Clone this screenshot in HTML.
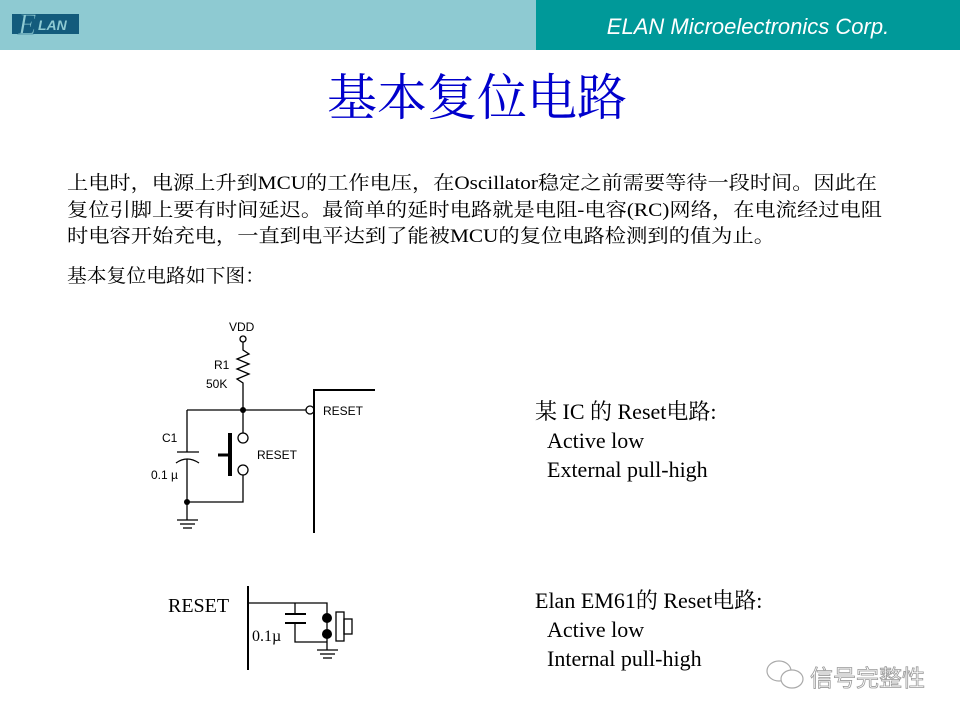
<!DOCTYPE html>
<html><head><meta charset="utf-8"><style>
html,body{margin:0;padding:0;background:#fff;}
svg{display:block;}
</style></head><body>
<svg width="960" height="720" viewBox="0 0 960 720" xmlns="http://www.w3.org/2000/svg">
<rect x="0" y="0" width="536" height="50" fill="#8ECAD2"/>
<rect x="536" y="0" width="424" height="50" fill="#009999"/>
<rect x="12" y="14" width="67" height="20" fill="#135B7C"/>
<text x="38" y="30" font-family="Liberation Sans, sans-serif" font-style="italic" font-weight="bold" font-size="14" fill="#8ECAD2">LAN</text>
<text x="18" y="34" font-family="Liberation Serif, serif" font-style="italic" font-size="30" fill="#8ECAD2" stroke="#135B7C" stroke-width="0.6">E</text>
<text x="748" y="34" text-anchor="middle" font-family="Liberation Sans, sans-serif" font-style="italic" font-size="22" fill="#fff">ELAN Microelectronics Corp.</text>
<text x="477" y="115" text-anchor="middle" font-family="'Noto Serif CJK SC', serif" font-size="50" fill="#0000CC">基本复位电路</text>
<g font-family="Liberation Serif, 'Noto Serif CJK SC', serif" font-size="19" fill="#000">
<text x="67" y="189" textLength="810" lengthAdjust="spacingAndGlyphs">上电时，电源上升到MCU的工作电压，在Oscillator稳定之前需要等待一段时间。因此在</text>
<text x="67" y="216" textLength="815" lengthAdjust="spacingAndGlyphs">复位引脚上要有时间延迟。最简单的延时电路就是电阻-电容(RC)网络，在电流经过电阻</text>
<text x="67" y="242" textLength="708" lengthAdjust="spacingAndGlyphs">时电容开始充电，一直到电平达到了能被MCU的复位电路检测到的值为止。</text>
<text x="67" y="282" textLength="198" lengthAdjust="spacingAndGlyphs">基本复位电路如下图：</text>
</g>
<g stroke="#000" stroke-width="1.3" fill="none">
<circle cx="243" cy="339" r="3"/>
<polyline points="243,342 243,350 249,354 237,359 249,364 237,369 249,374 237,379 243,383 243,410"/>
<line x1="187" y1="410" x2="306" y2="410"/>
<circle cx="310" cy="410" r="4"/>
<polyline points="375,390 314,390 314,533" stroke-width="2"/>
<line x1="243" y1="410" x2="243" y2="433"/>
<ellipse cx="243" cy="438" rx="5" ry="5"/>
<ellipse cx="243" cy="470" rx="5" ry="5"/>
<polyline points="243,475 243,502 187,502"/>
<line x1="230" y1="433" x2="230" y2="476" stroke-width="4"/>
<line x1="218" y1="455" x2="230" y2="455" stroke-width="3"/>
<line x1="187" y1="410" x2="187" y2="452"/>
<line x1="177" y1="452" x2="199" y2="452"/>
<path d="M176,463 Q187,455 199,463"/>
<line x1="187" y1="459" x2="187" y2="520"/>
<line x1="177" y1="520" x2="198" y2="520"/>
<line x1="180" y1="524" x2="195" y2="524"/>
<line x1="183" y1="528" x2="192" y2="528"/>
</g>
<circle cx="243" cy="410" r="3" fill="#000"/>
<circle cx="187" cy="502" r="3" fill="#000"/>
<g font-family="Liberation Sans, sans-serif" font-size="12" fill="#000">
<text x="229" y="331">VDD</text>
<text x="214" y="369">R1</text>
<text x="206" y="388">50K</text>
<text x="323" y="415">RESET</text>
<text x="257" y="459">RESET</text>
<text x="162" y="442">C1</text>
<text x="151" y="479">0.1 µ</text>
</g>
<g stroke="#000" stroke-width="1.3" fill="none">
<line x1="248" y1="586" x2="248" y2="670" stroke-width="2"/>
<polyline points="248,603 327,603 327,650"/>
<line x1="295" y1="603" x2="295" y2="614"/>
<line x1="285" y1="614" x2="306" y2="614" stroke-width="2"/>
<line x1="285" y1="623" x2="306" y2="623" stroke-width="2"/>
<polyline points="295,623 295,642 327,642"/>
<line x1="317" y1="650" x2="338" y2="650"/>
<line x1="320" y1="654" x2="335" y2="654"/>
<line x1="323" y1="658" x2="332" y2="658"/>
<rect x="336" y="612" width="8" height="29"/>
<rect x="344" y="619" width="8" height="15"/>
</g>
<circle cx="327" cy="618" r="5" fill="#000"/>
<circle cx="327" cy="634" r="5" fill="#000"/>
<g font-family="Liberation Serif, serif" fill="#000">
<text x="168" y="612" font-size="20">RESET</text>
<text x="252" y="641" font-size="16">0.1µ</text>
</g>
<g font-family="Liberation Serif, 'Noto Serif CJK SC', serif" font-size="22" fill="#000">
<text x="535" y="419">某 IC 的 Reset电路:</text>
<text x="547" y="448">Active low</text>
<text x="547" y="477">External pull-high</text>
<text x="535" y="608">Elan EM61的 Reset电路:</text>
<text x="547" y="637">Active low</text>
<text x="547" y="666">Internal pull-high</text>
</g>
<g stroke="#aaa" stroke-width="1.2" fill="#fff">
<ellipse cx="779" cy="671" rx="12" ry="10"/>
<ellipse cx="792" cy="679" rx="11" ry="9"/>
</g>
<text x="810" y="686" font-family="'Noto Sans CJK SC', sans-serif" font-size="23" fill="#fff" stroke="#999" stroke-width="0.8">信号完整性</text>
</svg>
</body></html>
